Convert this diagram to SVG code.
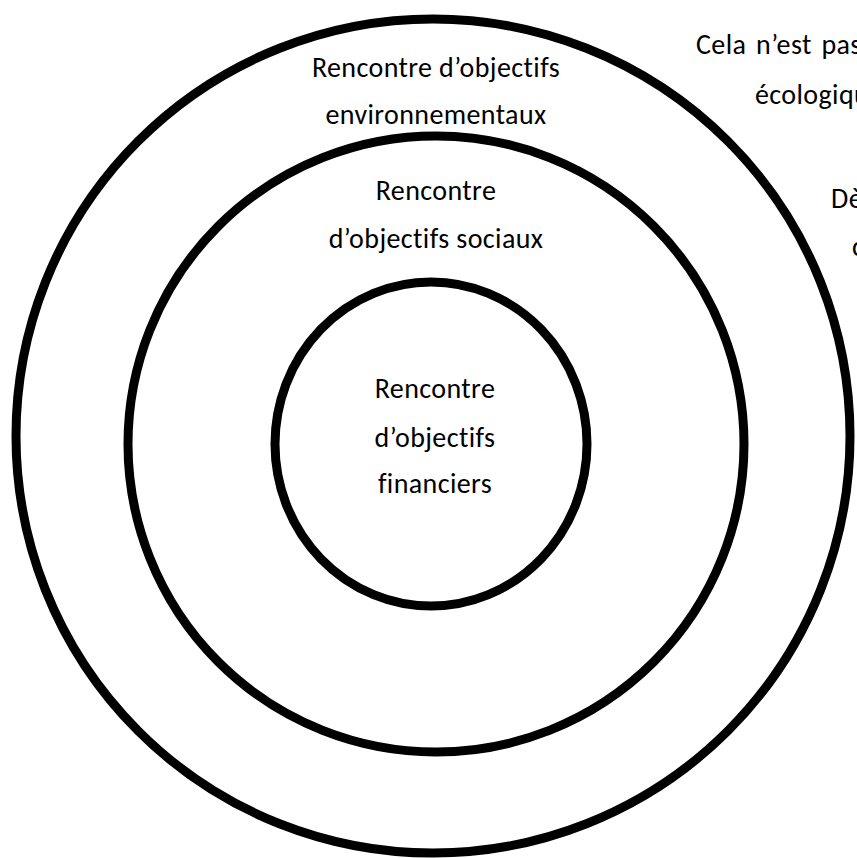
<svg xmlns="http://www.w3.org/2000/svg" width="857" height="858" viewBox="0 0 857 858">
<style>
.ring{fill:none;stroke:#000;stroke-width:9}
.t{font-family:Carlito,Lato,"Open Sans",sans-serif;font-size:28px;letter-spacing:0.4px;fill:#000;text-anchor:middle}
.s{font-family:Carlito,Lato,"Open Sans",sans-serif;font-size:28px;letter-spacing:0.4px;fill:#000}
</style>
<rect width="857" height="858" fill="#fff"/>
<g id="outer">
<circle class="ring" cx="433" cy="436" r="417"/>
<text class="t" x="436" y="77">Rencontre d’objectifs</text>
<text class="t" x="436" y="124">environnementaux</text>
</g>
<g id="middle">
<circle class="ring" cx="436" cy="444" r="308"/>
<text class="t" x="436" y="200">Rencontre</text>
<text class="t" x="436" y="248">d’objectifs sociaux</text>
</g>
<g id="inner">
<ellipse class="ring" cx="431" cy="444" rx="156" ry="162"/>
<text class="t" x="435" y="398">Rencontre</text>
<text class="t" x="435" y="447">d’objectifs</text>
<text class="t" x="435" y="493">financiers</text>
</g>
<g id="side">
<text class="s" x="696" y="54" word-spacing="3">Cela n’est pas</text>
<text class="s" x="755" y="104">écologiqu</text>
<text class="s" x="831" y="208">Dè</text>
<text class="s" x="852" y="256">c</text>
</g>
</svg>
